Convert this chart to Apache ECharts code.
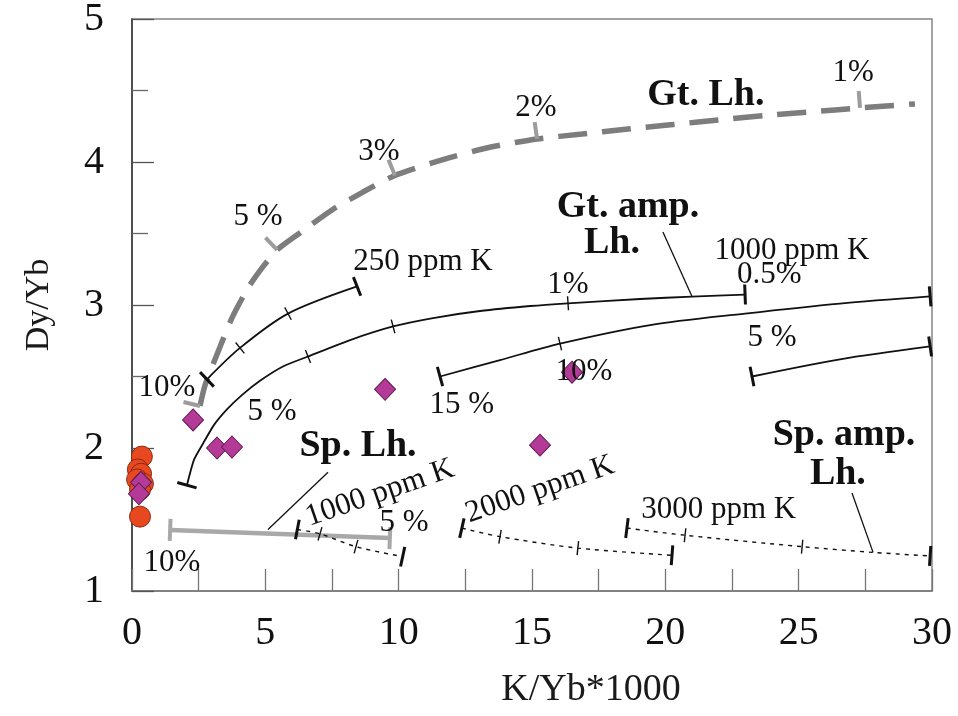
<!DOCTYPE html>
<html>
<head>
<meta charset="utf-8">
<title>Dy/Yb vs K/Yb melting models</title>
<script src="https://cdn.jsdelivr.net/npm/echarts@6/dist/echarts.min.js"></script>
<style>
  html, body { margin: 0; padding: 0; background: #ffffff; }
  #chart { width: 958px; height: 716px; }
</style>
</head>
<body>
<div id="chart"></div>
<script>
// ---------- data ----------
const xTickValues = [0, 5, 10, 15, 20, 25, 30];
const yTickValues = [1, 2, 3, 4, 5];

// Garnet lherzolite melting trend (dashed gray) and its melt-fraction marks
const gtLh = [[2.55,2.294],[2.74,2.44],[3.22,2.67],[3.75,2.91],[4.35,3.12],[4.875,3.26],[5.44,3.385],
              [6.19,3.49],[7.54,3.67],[8.66,3.79],[9.86,3.906],[11.66,4.017],[13.46,4.105],[15.19,4.161],
              [16.875,4.196],[18.6,4.231],[20.29,4.262],[21.98,4.294],[23.7,4.325],[25.42,4.35],
              [27.3,4.378],[29.36,4.406]];
const gtLhMarks = [[2.55,2.294],[5.44,3.385],[9.86,3.906],[15.19,4.161],[27.3,4.378]];

// Garnet amphibole lherzolite trends (solid black)
const gtAmp250 = [[2.81,2.48],[4.05,2.70],[5.85,2.94],[8.44,3.13]];
const gtAmp250Ticks = [[4.05,2.70],[5.85,2.94]];
const gtAmp1000 = [[2.06,1.74],[2.33,1.92],[2.66,2.03],[3.07,2.16],[3.56,2.27],[4.12,2.37],[4.8,2.47],
                   [5.66,2.57],[6.6,2.64],[8.18,2.755],[9.79,2.85],[11.29,2.909],[13.05,2.958],
                   [14.93,2.993],[16.35,3.012],[19.05,3.042],[21.0,3.059],[22.99,3.073]];
const gtAmp1000Ticks = [[6.6,2.64],[9.79,2.85],[16.35,3.012]];
const gtAmp15 = [[11.55,2.50],[13.8,2.615],[16.05,2.73],[19.43,2.86],[22.99,2.94],[26.55,3.01],[29.93,3.06]];
const gtAmp15Ticks = [[16.05,2.73]];
const gtAmp5 = [[23.25,2.50],[26.55,2.62],[29.93,2.71]];

// Spinel lherzolite trend (solid gray)
const spLh = [[1.43,1.427],[9.67,1.37]];

// Spinel amphibole lherzolite trends (dotted black)
const spAmp1000 = [[6.2,1.43],[7.05,1.40],[8.4,1.31],[10.15,1.24]];
const spAmp1000Ticks = [[7.05,1.40],[8.4,1.31]];
const spAmp2000 = [[12.37,1.44],[13.8,1.38],[16.72,1.30],[20.25,1.25]];
const spAmp2000Ticks = [[13.8,1.38],[16.72,1.30]];
const spAmp3000 = [[18.56,1.44],[20.74,1.39],[25.13,1.31],[27.79,1.27],[29.93,1.245]];
const spAmp3000Ticks = [[20.74,1.39],[25.13,1.31]];

// Leader lines from the field names to their trends
const leaderGtAmp = [[19.91,3.51],[21.0,3.059]];
const leaderSpLh = [[7.35,1.83],[5.1,1.43]];
const leaderSpAmp = [[27.0,1.685],[27.79,1.27]];

// Samples
const diamondSamples = [[2.29,2.196],[3.19,2.0],[3.75,2.007],[9.49,2.41],[16.5,2.53],[15.3,2.02],[0.34,1.76],[0.26,1.68]];
const circleSamples = [[0.37,1.94],[0.22,1.85],[0.34,1.82],[0.19,1.78],[0.41,1.75],[0.30,1.71],[0.30,1.52]];

// Annotations anchored in data units
const notes = [
  { t: 'Gt. Lh.', at: [21.52, 4.47], b: true },
  { t: '1%', at: [27.04, 4.62] },
  { t: '2%', at: [15.15, 4.38] },
  { t: '3%', at: [9.26, 4.07] },
  { t: '5 %', at: [4.73, 3.615] },
  { t: '10%', at: [1.31, 2.42] },
  { t: '250 ppm K', at: [10.91, 3.30] },
  { t: 'Gt. amp.', at: [18.6, 3.685], b: true },
  { t: 'Lh.', at: [18.0, 3.43], b: true },
  { t: '1000 ppm K', at: [24.75, 3.38] },
  { t: '0.5%', at: [23.9, 3.21] },
  { t: '1%', at: [16.35, 3.14] },
  { t: '5 %', at: [24.0, 2.77] },
  { t: '10%', at: [16.95, 2.53] },
  { t: '15 %', at: [12.37, 2.30] },
  { t: '5 %', at: [5.25, 2.25] },
  { t: 'Sp. Lh.', at: [8.475, 2.01], b: true },
  { t: '1000 ppm K', at: [9.3, 1.685], r: 19 },
  { t: '5 %', at: [10.2, 1.48] },
  { t: '10%', at: [1.5, 1.20] },
  { t: '2000 ppm K', at: [15.3, 1.71], r: 19 },
  { t: '3000 ppm K', at: [22.0, 1.57] },
  { t: 'Sp. amp.', at: [26.7, 2.09], b: true },
  { t: 'Lh.', at: [26.47, 1.82], b: true }
];

// ---------- drawing ----------
const FONT = '"Liberation Serif", "Times New Roman", serif';

function lineSeries(data, style, z, smooth) {
  return {
    type: 'line', data: data, smooth: smooth == null ? 0.3 : smooth, showSymbol: false, silent: true,
    z: z || 3, lineStyle: style, animation: false
  };
}

// Marks drawn across (or to one side of) a trend, oriented by the trend's local direction
function markSeries(curve, marks, kind) {
  const styles = {
    bar:   { before: 10, after: 10, width: 3,   color: '#111111' },
    tick:  { before: 7,  after: 7,  width: 1.4, color: '#111111' },
    flag:  { before: 17, after: 0,  width: 4,   color: '#9c9c9c' },
    gray:  { before: 11, after: 11, width: 4,   color: '#a8a8a8' }
  };
  const s = styles[kind];
  return {
    type: 'custom', coordinateSystem: 'cartesian2d', silent: true, z: 6, animation: false,
    data: marks,
    renderItem: function (params, api) {
      const x = api.value(0), y = api.value(1);
      const p = api.coord([x, y]);
      let k = 0, best = Infinity;
      curve.forEach(function (c, i) {
        const d = Math.abs(c[0] - x) + Math.abs(c[1] - y);
        if (d < best) { best = d; k = i; }
      });
      const a = api.coord(curve[Math.max(k - 1, 0)]);
      const b = api.coord(curve[Math.min(k + 1, curve.length - 1)]);
      let dx = b[0] - a[0], dy = b[1] - a[1];
      const len = Math.hypot(dx, dy) || 1;
      dx /= len; dy /= len;
      const nx = dy, ny = -dx; // normal on the upper-left side of the trend
      return {
        type: 'line',
        shape: {
          x1: p[0] + nx * s.before, y1: p[1] + ny * s.before,
          x2: p[0] - nx * s.after,  y2: p[1] - ny * s.after
        },
        style: { stroke: s.color, lineWidth: s.width, lineCap: 'butt' }
      };
    }
  };
}

function ends(curve) { return [curve[0], curve[curve.length - 1]]; }

const solidBlack = { color: '#111111', width: 1.8 };
const dottedBlack = { color: '#111111', width: 1.4, type: [4, 5] };

const series = [
  // gray dashed garnet lherzolite trend
  lineSeries(gtLh, { color: '#7d7d7d', width: 5.5, type: [29, 15], cap: 'butt' }, 2, 0.2),
  markSeries(gtLh, gtLhMarks, 'flag'),

  // solid garnet amphibole lherzolite trends
  lineSeries(gtAmp250, solidBlack),
  markSeries(gtAmp250, ends(gtAmp250), 'bar'),
  markSeries(gtAmp250, gtAmp250Ticks, 'tick'),
  lineSeries(gtAmp1000, solidBlack, 3, 0.2),
  markSeries(gtAmp1000, ends(gtAmp1000), 'bar'),
  markSeries(gtAmp1000, gtAmp1000Ticks, 'tick'),
  lineSeries(gtAmp15, solidBlack),
  markSeries(gtAmp15, ends(gtAmp15), 'bar'),
  markSeries(gtAmp15, gtAmp15Ticks, 'tick'),
  lineSeries(gtAmp5, solidBlack),
  markSeries(gtAmp5, ends(gtAmp5), 'bar'),

  // spinel lherzolite (gray) and spinel amphibole lherzolite (dotted)
  lineSeries(spLh, { color: '#a8a8a8', width: 4.5 }, 2),
  markSeries(spLh, ends(spLh), 'gray'),
  lineSeries(spAmp1000, dottedBlack),
  markSeries(spAmp1000, ends(spAmp1000), 'bar'),
  markSeries(spAmp1000, spAmp1000Ticks, 'tick'),
  lineSeries(spAmp2000, dottedBlack),
  markSeries(spAmp2000, ends(spAmp2000), 'bar'),
  markSeries(spAmp2000, spAmp2000Ticks, 'tick'),
  lineSeries(spAmp3000, dottedBlack),
  markSeries(spAmp3000, ends(spAmp3000), 'bar'),
  markSeries(spAmp3000, spAmp3000Ticks, 'tick'),

  // leader lines
  { type: 'line', data: leaderGtAmp, showSymbol: false, silent: true, animation: false, lineStyle: { color: '#111', width: 1.3 } },
  { type: 'line', data: leaderSpLh, showSymbol: false, silent: true, animation: false, lineStyle: { color: '#111', width: 1.3 } },
  { type: 'line', data: leaderSpAmp, showSymbol: false, silent: true, animation: false, lineStyle: { color: '#111', width: 1.3 } },

  // samples
  {
    type: 'scatter', data: circleSamples, symbol: 'circle', symbolSize: 21, z: 8, animation: false, silent: true,
    itemStyle: { color: '#e8481f', borderColor: '#8a2a12', borderWidth: 1, opacity: 1 }
  },
  {
    type: 'scatter', data: diamondSamples, symbol: 'diamond', symbolSize: [21, 22], z: 9, animation: false, silent: true,
    itemStyle: { color: '#b43a98', borderColor: '#5f1c52', borderWidth: 1, opacity: 1 }
  },

  // annotations
  {
    type: 'custom', coordinateSystem: 'cartesian2d', silent: true, z: 10, clip: false, animation: false,
    data: notes.map(function (n, i) { return [n.at[0], n.at[1], i]; }),
    renderItem: function (params, api) {
      const n = notes[api.value(2)];
      const p = api.coord([api.value(0), api.value(1)]);
      return {
        type: 'text', x: p[0], y: p[1],
        rotation: n.r ? n.r * Math.PI / 180 : 0,
        style: {
          text: n.t, x: 0, y: 0, align: 'center', verticalAlign: 'middle',
          font: (n.b ? 'bold 38px ' : '31px ') + FONT,
          fill: '#111111'
        }
      };
    }
  }
];

const chart = echarts.init(document.getElementById('chart'), null, { renderer: 'canvas' });
chart.setOption({
  animation: false,
  backgroundColor: '#ffffff',
  grid: {
    left: 132, right: 26, top: 19, bottom: 125,
    containLabel: false, outerBoundsMode: 'none',
    show: true, borderColor: '#858585', borderWidth: 1.5, backgroundColor: 'transparent'
  },
  xAxis: {
    type: 'value', min: 0, max: 30, interval: 2.5,
    name: 'K/Yb*1000', nameLocation: 'middle', nameGap: 80,
    nameTextStyle: { fontFamily: FONT, fontSize: 38, color: '#1a1a1a', padding: [0, 0, 0, 118] },
    axisLine: { show: true, onZero: false, lineStyle: { color: '#777777', width: 1.5 } },
    axisTick: { show: true, inside: true, length: 22, lineStyle: { color: '#777777', width: 1.3 } },
    splitLine: { show: false },
    axisLabel: {
      margin: 22, fontFamily: FONT, fontSize: 40, color: '#111111',
      formatter: function (v) { return xTickValues.indexOf(v) >= 0 ? String(v) : ''; }
    }
  },
  yAxis: {
    type: 'value', min: 1, max: 5, interval: 1,
    name: 'Dy/Yb', nameLocation: 'middle', nameGap: 76, nameRotate: 90,
    nameTextStyle: { fontFamily: FONT, fontSize: 34, color: '#1a1a1a' },
    axisLine: { show: true, onZero: false, lineStyle: { color: '#333333', width: 1.5 } },
    axisTick: { show: true, inside: true, length: 22, lineStyle: { color: '#555555', width: 1.3 } },
    minorTick: { show: true, splitNumber: 2, length: 16, lineStyle: { color: '#666666', width: 1.3 } },
    splitLine: { show: false },
    minorSplitLine: { show: false },
    axisLabel: {
      margin: 28, fontFamily: FONT, fontSize: 40, color: '#111111',
      formatter: function (v) { return yTickValues.indexOf(v) >= 0 ? String(v) : ''; }
    }
  },
  series: series
});
</script>
</body>
</html>
